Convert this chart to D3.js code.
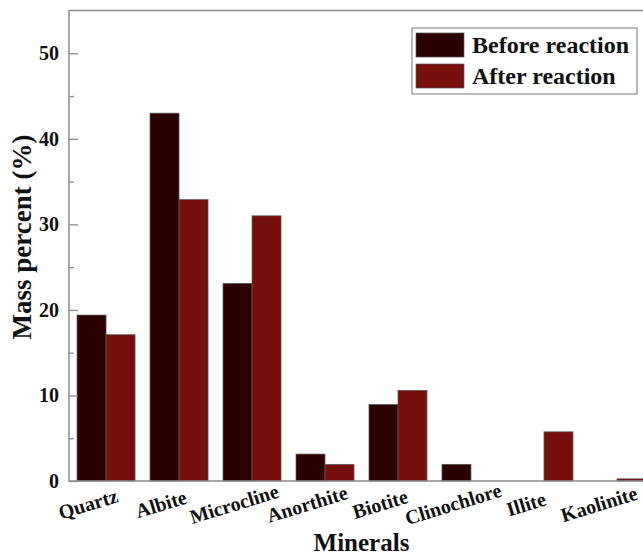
<!DOCTYPE html>
<html>
<head>
<meta charset="utf-8">
<script src="https://cdn.jsdelivr.net/npm/d3@7"></script>
<style>
  body { margin: 0; background: #fff; }
  svg { display: block; font-family: "Liberation Serif", "Times New Roman", serif; font-weight: bold; }
</style>
</head>
<body>
<script>
// data
var minerals = ["Quartz", "Albite", "Microcline", "Anorthite", "Biotite", "Clinochlore", "Illite", "Kaolinite"];
var before = [19.4, 43.0, 23.1, 3.15, 8.95, 1.95, 0, 0];
var after = [17.1, 32.9, 31.0, 1.95, 10.6, 0, 5.75, 0.25];
var seriesNames = ["Before reaction", "After reaction"];
var seriesColors = ["#2b0102", "#760f0b"];
var yTicks = [0, 10, 20, 30, 40, 50];
var yMinor = [5, 15, 25, 35, 45];

var w = 643, h = 555;
var mLeft = 69, mRight = 654, mTop = 10.5, mBottom = 481;

var svg = d3.select("body")
	.append("svg")
	.attr("width", w)
	.attr("height", h);

var x = d3.scaleBand()
	.domain(minerals)
	.range([mLeft, mRight])
	.paddingInner(0.205)
	.paddingOuter(0.11);

var xs = d3.scaleBand()
	.domain([0, 1])
	.range([0, x.bandwidth()]);

var y = d3.scaleLinear()
	.domain([0, 55])
	.range([mBottom, mTop]);

// bars
var rows = minerals.map(function(m, i) {
	return { name: m, vals: [before[i], after[i]] };
});

var g = svg.selectAll("g.grp")
	.data(rows)
	.enter()
	.append("g")
	.attr("class", "grp")
	.attr("transform", function(d) { return "translate(" + x(d.name) + ",0)"; });

g.selectAll("rect")
	.data(function(d) {
		return d.vals.map(function(v, k) { return { k: k, v: v }; })
			.filter(function(d) { return d.v > 0; });
	})
	.enter()
	.append("rect")
	.attr("x", function(d) { return xs(d.k); })
	.attr("y", function(d) { return y(d.v); })
	.attr("width", xs.bandwidth())
	.attr("height", function(d) { return y(0) - y(d.v); })
	.attr("fill", function(d) { return seriesColors[d.k]; })
	.attr("stroke", "#5a5a5a")
	.attr("stroke-width", 0.7);

// frame
svg.append("rect")
	.attr("x", mLeft)
	.attr("y", mTop)
	.attr("width", mRight - mLeft)
	.attr("height", mBottom - mTop)
	.attr("fill", "none")
	.attr("stroke", "#8c8c8c")
	.attr("stroke-width", 1.5);

// y axis, ticks inside
var yAxis = svg.append("g")
	.attr("transform", "translate(" + mLeft + ",0)")
	.call(d3.axisRight(y).tickValues(yTicks).tickSize(9).tickFormat(""));
yAxis.select(".domain").remove();
yAxis.selectAll("line").attr("stroke", "#8c8c8c").attr("stroke-width", 1.3);

var yAxisMinor = svg.append("g")
	.attr("transform", "translate(" + mLeft + ",0)")
	.call(d3.axisRight(y).tickValues(yMinor).tickSize(5).tickFormat(""));
yAxisMinor.select(".domain").remove();
yAxisMinor.selectAll("line").attr("stroke", "#8c8c8c").attr("stroke-width", 1.3);

svg.selectAll("text.ylab")
	.data(yTicks)
	.enter()
	.append("text")
	.attr("class", "ylab")
	.attr("x", mLeft - 10)
	.attr("y", function(d) { return y(d); })
	.attr("dy", "0.35em")
	.attr("text-anchor", "end")
	.attr("font-size", "20px")
	.attr("fill", "#111")
	.text(function(d) { return d; });

// x labels, tilted
svg.selectAll("text.xlab")
	.data(minerals)
	.enter()
	.append("text")
	.attr("class", "xlab")
	.attr("transform", function(d) {
		return "translate(" + (x(d) + x.bandwidth() / 2 - 18) + ",504) rotate(-17)";
	})
	.attr("dy", "0.35em")
	.attr("text-anchor", "middle")
	.attr("font-size", "20px")
	.attr("fill", "#111")
	.text(function(d) { return d; });

// axis titles
svg.append("text")
	.attr("x", (mLeft + mRight) / 2)
	.attr("y", 551)
	.attr("text-anchor", "middle")
	.attr("font-size", "25px")
	.attr("fill", "#111")
	.text("Minerals");

svg.append("text")
	.attr("transform", "translate(31,237) rotate(-90)")
	.attr("text-anchor", "middle")
	.attr("font-size", "27px")
	.attr("fill", "#111")
	.text("Mass percent (%)");

// legend
var leg = svg.append("g");
leg.append("rect")
	.attr("x", 412)
	.attr("y", 28)
	.attr("width", 225)
	.attr("height", 66)
	.attr("fill", "#fff")
	.attr("stroke", "#8c8c8c")
	.attr("stroke-width", 1.2);

var li = leg.selectAll("g.item")
	.data(seriesNames)
	.enter()
	.append("g")
	.attr("class", "item")
	.attr("transform", function(d, i) { return "translate(416," + (33 + i * 31) + ")"; });

li.append("rect")
	.attr("width", 48)
	.attr("height", 24)
	.attr("fill", function(d, i) { return seriesColors[i]; })
	.attr("stroke", "#5a5a5a")
	.attr("stroke-width", 0.7);

li.append("text")
	.attr("x", 56)
	.attr("y", 12)
	.attr("dy", "0.35em")
	.attr("font-size", "24px")
	.attr("fill", "#111")
	.text(function(d) { return d; });
</script>
</body>
</html>
